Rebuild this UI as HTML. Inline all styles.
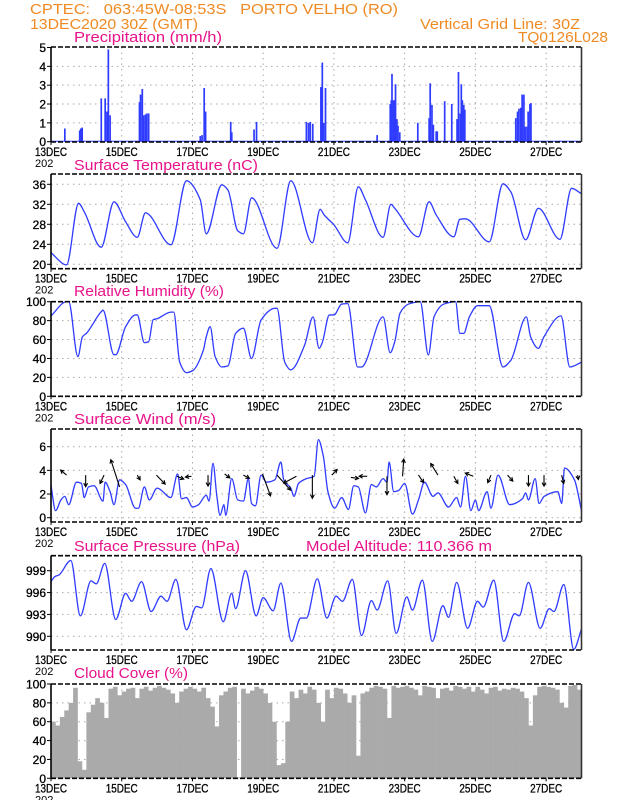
<!DOCTYPE html>
<html><head><meta charset="utf-8">
<style>
html,body{margin:0;padding:0;background:#fff;}
svg{display:block;font-family:"Liberation Sans",sans-serif;}
</style></head>
<body>
<svg id="chart" width="618" height="800" viewBox="0 0 618 800" xmlns="http://www.w3.org/2000/svg">
<g fill="#f08a24" font-size="15">
<text x="30" y="14" textLength="368" lengthAdjust="spacingAndGlyphs" xml:space="preserve">CPTEC:   063:45W-08:53S   PORTO VELHO (RO)</text>
<text x="30" y="29" textLength="168" lengthAdjust="spacingAndGlyphs">13DEC2020 30Z (GMT)</text>
<text x="580" y="29" text-anchor="end" textLength="160" lengthAdjust="spacingAndGlyphs">Vertical Grid Line: 30Z</text>
<text x="608" y="42" text-anchor="end" textLength="90" lengthAdjust="spacingAndGlyphs">TQ0126L028</text>
</g>
<g id="panels"></g>
</svg>
<script>
// ---- data (time in days since 13DEC 00Z) ----
const dayLabels = ["13DEC","15DEC","17DEC","19DEC","21DEC","23DEC","25DEC","27DEC"];
const precipDays = [.39,.81,.84,.88,1.42,1.53,1.58,1.62,1.67,2.5,2.53,2.58,2.62,2.67,2.71,2.76,4.22,4.27,4.33,4.37,5.08,5.11,5.74,5.81,7.22,7.28,7.33,7.4,7.63,7.67,7.71,7.76,9.22,9.59,9.62,9.64,9.68,9.71,9.74,9.78,9.81,9.86,10.37,10.69,10.72,10.77,10.81,10.89,10.92,11.13,11.33,11.48,11.52,11.57,11.6,11.63,11.67,11.7,13.14,13.19,13.23,13.28,13.32,13.37,13.41,13.46,13.49,13.54,13.57,14.39];
const precipVals = [0.7,0.6,0.7,0.75,2.3,2.3,1.6,4.9,1.4,2.1,2.5,2.8,1.4,1.45,1.5,1.5,0.3,0.35,2.85,1.6,1.05,0.5,0.65,1.05,1.05,1.0,1.05,0.95,2.9,4.2,1.0,2.85,0.35,2.0,2.2,3.6,2.2,2.2,3.05,1.2,0.85,0.5,1.0,1.25,3.1,1.95,0.9,0.55,0.55,2.15,2.0,1.2,3.7,1.5,3.05,2.2,1.95,1.7,1.25,1.6,1.75,1.8,2.5,2.5,0.8,0.8,1.6,2.0,2.05,0.05];
const tempDays = [0,.44,.78,.94,1.42,1.78,2.11,2.44,2.67,3.39,3.83,4.22,4.39,4.83,5.0,5.28,5.44,5.67,6.39,6.78,7.39,7.61,7.72,8.0,8.39,8.69,8.89,9.39,9.61,9.72,10.39,10.69,10.89,11.39,11.56,11.72,12.39,12.78,13.0,13.42,13.78,14.39,14.72,15.0];
const tempVals = [22.3,19.9,32.2,30.5,23.4,32.5,28.5,25.4,30.3,23.9,36.7,32.9,26.1,35.9,34.9,26.7,26.1,33.3,23.2,36.7,24.3,31.0,29.9,27.9,24.3,35.5,32.9,25.4,32.0,31.2,25.5,32.5,29.9,25.5,29.0,29.1,24.5,36.1,34.5,24.9,31.2,25.0,35.2,34.1];
const rhDays = [0,.44,.5,.76,.89,1.0,1.42,1.47,1.78,1.83,2.11,2.39,2.44,2.64,2.76,2.89,3.0,3.39,3.47,3.64,3.83,4.0,4.31,4.39,4.5,4.64,4.83,5.0,5.22,5.44,5.67,5.94,6.33,6.39,6.61,6.78,7.17,7.41,7.58,7.67,7.87,8.0,8.22,8.39,8.67,8.78,9.39,9.59,9.72,9.87,10.11,10.44,10.67,10.83,11.11,11.44,11.56,11.67,11.83,12.06,12.39,12.78,13.0,13.44,13.56,13.78,13.94,14.42,14.67,15.0];
const rhVals = [85,100,100,42,63,66.5,89.4,91,44,44,73.6,86,86,56.7,57.7,81,82,89,89,36,25,27,49,63,73.6,42,31,32,66.5,72,40,80.6,93,93,36,28,54,84,50.7,56.7,86,86,97.5,98,31,31,84,46,57.7,88,97.5,100,43.7,84,97.5,100,66.5,66.5,84,95.8,95.8,31,38,84,63,50.7,63,85,31,36];
const windDays = [0,.13,.28,.39,.5,.72,.86,.94,1.06,1.22,1.47,1.53,1.67,1.78,1.94,2.11,2.39,2.47,2.64,2.78,3.0,3.39,3.58,3.69,3.83,4.0,4.17,4.39,4.47,4.58,4.69,4.78,4.89,4.94,5.11,5.28,5.44,5.58,5.67,5.78,5.94,6.09,6.33,6.5,6.58,6.78,6.87,7.0,7.22,7.44,7.56,7.7,7.83,8.02,8.22,8.41,8.56,8.69,8.89,9.06,9.2,9.39,9.5,9.56,9.69,9.83,10.0,10.22,10.39,10.56,10.8,10.94,11.24,11.47,11.58,11.72,11.87,12.0,12.09,12.33,12.44,12.64,12.97,13.33,13.42,13.5,13.69,13.8,13.94,14.33,14.44,14.52,14.8,15.0];
const windVals = [2.7,0.6,1.5,1.8,1.1,3.0,2.9,1.7,2.6,2.7,1.4,3.0,2.2,1.1,3.2,2.8,0.8,0.8,2.6,1.5,2.5,1.7,3.7,1.6,1.7,0.9,1.1,1.9,1.4,4.6,1.8,0.2,1.1,0.2,3.3,1.5,1.4,3.3,1.2,1.0,3.6,3.0,3.2,4.7,3.2,2.5,1.8,2.9,3.3,3.5,6.6,5.2,2.2,0.8,1.7,0.7,2.7,2.6,0.4,2.8,2.6,3.3,3.0,4.7,2.2,2.3,2.9,0.3,1.5,3.0,1.8,2.1,0.9,1.7,0.9,3.5,0.6,1.5,0.6,2.2,0.8,3.6,1.1,1.6,2.1,1.5,3.3,1.2,1.8,2.2,1.2,4.2,3.2,0.6];
const arrowDays = [.44,.98,1.5,1.94,2.44,2.98,3.56,3.97,4.44,4.91,5.44,5.98,6.39,6.94,7.39,7.94,8.48,8.94,9.5,9.94,10.39,10.94,11.39,11.94,12.44,12.91,13.5,13.94,14.44,14.89];
const arrowBase = [3.6,3.6,3.6,2.6,3.6,3.6,3.5,3.5,3.6,3.7,3.6,3.7,3.6,3.5,3.6,3.6,3.4,3.5,3.5,3.5,3.6,3.6,3.5,3.5,3.6,3.6,3.6,3.6,3.6,3.6];
const arrowU = [-1.5,0,-1,-2.2,0.7,2.2,1.7,-1.5,0,1.3,1.5,2,3.4,-3.2,0,1.3,1.9,-2,0,0.3,1.3,-1.8,1,-2,-0.8,1.3,0,0,0.5,0.2];
const arrowV = [1.25,-2.9,-2.1,6.8,-1.2,-2.25,-0.7,-0.2,-2.75,-1,-0.8,-5.5,-3.75,-1.7,-5.8,1.4,-0.25,0,-4.6,4.3,-1.9,2.9,-1.8,0.8,-1.9,-1.5,-2.75,-2.75,-2.1,-1.1];
const presDays = [0,.11,.22,.56,.83,1.13,1.28,1.52,1.83,2.11,2.28,2.56,2.83,3.11,3.28,3.53,3.83,4.11,4.26,4.52,4.87,5.11,5.22,5.5,5.8,6.0,6.28,6.5,6.8,7.06,7.22,7.53,7.8,8.06,8.24,8.52,8.78,9.06,9.22,9.52,9.76,10.06,10.22,10.5,10.78,11.08,11.24,11.47,11.78,12.06,12.22,12.52,12.8,13.11,13.24,13.5,13.83,14.09,14.22,14.5,14.78,15.0];
const presVals = [997.5,998.2,998.4,1000.4,992.8,997.6,997.2,1000.0,992.3,995.9,994.8,997.5,993.4,995.5,994.8,997.8,990.9,994.1,993.9,999.3,992.0,995.9,993.8,999.0,992.8,995.3,993.5,997.3,989.3,992.5,992.5,997.9,992.5,995.5,994.8,997.8,990.1,994.9,993.6,997.6,990.4,995.4,993.6,997.7,989.3,994.2,992.6,997.4,991.1,994.8,994.0,997.7,989.3,993.1,992.8,997.4,991.1,993.8,993.4,997.1,988.2,991.0];
const cloudVals = [60,56,65,72,80,96,18,9, 70,78,85,80,64,95,97,88, 92,95,96,85,95,97,93,96, 98,96,94,90,80,92,95,97, 95,92,96,85,76,55,88,92, 96,97,1,95,90,93,97,95, 90,80,60,14,16,60,92,85, 94,90,97,94,80,60,94,85, 96,95,90,80,88,24,90,92, 96,98,97,95,64,98,96,97, 98,96,94,88,98,97,96,85, 95,96,93,98,97,95,97,92, 97,94,90,96,97,93,95,94, 96,95,92,85,56,88,97,98, 97,96,94,80,75,98,99,94];
const precipTicks = [0,1,2,3,4,5];
const tempTicks = [20,24,28,32,36];
const rhTicks = [0,20,40,60,80,100];
const windTicks = [0,2,4,6];
const presTicks = [990,993,996,999];
const cloudTicks = [0,20,40,60,80,100];

const NS = "http://www.w3.org/2000/svg";
const L = 51, R = 581.5, DAYS = 15;
const X = d => L + d * (R - L) / DAYS;
const root = document.getElementById('panels');
function el(tag, attrs, parent) {
  const e = document.createElementNS(NS, tag);
  for (const k in attrs) e.setAttribute(k, attrs[k]);
  (parent || root).appendChild(e);
  return e;
}
function yScale(top, bottom, lo, hi, vTop, vBot) {
  return v => vTop + (v - hi) / (lo - hi) * (vBot - vTop);
}
function monotonePath(xs, ys) {
  const n = xs.length; const m = [];
  const dx = [], s = [];
  for (let i = 0; i < n - 1; i++) { dx.push(xs[i+1]-xs[i]); s.push((ys[i+1]-ys[i])/dx[i]); }
  m[0] = s[0]; m[n-1] = s[n-2];
  for (let i = 1; i < n - 1; i++) {
    if (s[i-1] * s[i] <= 0) m[i] = 0;
    else { const h0 = dx[i-1], h1 = dx[i]; m[i] = 3*(h0+h1)/((2*h1+h0)/s[i-1] + (h1+2*h0)/s[i]); }
  }
  let d = `M${xs[0].toFixed(2)},${ys[0].toFixed(2)}`;
  for (let i = 0; i < n - 1; i++) {
    const h = dx[i] / 3;
    d += ` C${(xs[i]+h).toFixed(2)},${(ys[i]+m[i]*h).toFixed(2)} ${(xs[i+1]-h).toFixed(2)},${(ys[i+1]-m[i+1]*h).toFixed(2)} ${xs[i+1].toFixed(2)},${ys[i+1].toFixed(2)}`;
  }
  return d;
}
function panel(name, title, titleY, titleW, top, bottom, ticks, vTop, vBot, lo, hi) {
  const g = el('g', {});
  
  
  const t = el('text', {x: 74, y: titleY, fill: '#e8128a', 'font-size': 15, textLength: titleW, lengthAdjust: 'spacingAndGlyphs'}, g);
  t.textContent = title;
  
  
  const y = yScale(top, bottom, lo, hi, vTop, vBot);
  for (let d = 2; d < 15; d += 2) {
    const gl = el('line', {x1: X(d), x2: X(d), y1: top, y2: bottom, stroke: '#aaa', 'stroke-width': 1, 'stroke-dasharray': '1.5,4'}, g);
    
    
  }
  ticks.forEach(v => {
    const yy = y(v);
    if (yy > top + 1 && yy < bottom - 1) {
      const gl = el('line', {x1: L, x2: R, y1: yy, y2: yy, stroke: '#aaa', 'stroke-width': 1, 'stroke-dasharray': '1.5,4'}, g);
      
      
    }
    el('line', {x1: L - 4, x2: L, y1: yy, y2: yy, stroke: '#000', 'stroke-width': 1}, g);
    const tl = el('text', {x: L - 5, y: yy + 4.5, 'text-anchor': 'end', 'font-size': 12, stroke: '#000', 'stroke-width': 0.3}, g);
    tl.textContent = v;
    
    
  });
  dayLabels.forEach((lab, i) => {
    const d = i * 2;
    el('line', {x1: X(d), x2: X(d), y1: bottom, y2: bottom + 3, stroke: '#000'}, g);
    const xl = el('text', {x: X(d), y: bottom + 14, 'text-anchor': 'middle', 'font-size': 12, stroke: '#000', 'stroke-width': 0.3, textLength: 32, lengthAdjust: 'spacingAndGlyphs'}, g);
    xl.textContent = lab;
    
    
  });
  const yr = el('text', {x: 35, y: bottom + 25, 'font-size': 11, fill: '#000'}, g);
  yr.textContent = '202';
  
  
  return {g, y, top, bottom};
}
function frame(p) {
  const f = el('g', {}, p.g);
  
  
  el('line', {x1: L, x2: R, y1: p.top, y2: p.top, stroke: '#000', 'stroke-width': 1.6, 'stroke-dasharray': '5,2'}, f);
  el('line', {x1: L, x2: R, y1: p.bottom, y2: p.bottom, stroke: '#000', 'stroke-width': 1.6, 'stroke-dasharray': '5,2'}, f);
  el('line', {x1: L, x2: L, y1: p.top, y2: p.bottom, stroke: '#000', 'stroke-width': 1.6}, f);
  el('line', {x1: R, x2: R, y1: p.top, y2: p.bottom, stroke: '#333', 'stroke-width': 1.6}, f);
}
function line(p, days, vals, name) {
  const path = el('path', {d: monotonePath(days.map(X), vals.map(p.y)), fill: 'none', stroke: '#2f3cff', 'stroke-width': 1.3}, p.g);
  
  
}

// Precipitation
const p1 = panel('precipitation', 'Precipitation (mm/h)', 42, 148, 47, 142, precipTicks, 47.5, 141.7, 0, 5);
const pb = el('line', {x1: L, x2: R, y1: 141.2, y2: 141.2, stroke: '#2f3cff', 'stroke-width': 1}, p1.g);


precipDays.forEach((d, i) => {
  const yy = p1.y(precipVals[i]);
  const b = el('rect', {x: X(d) - 0.8, y: yy, width: 1.7, height: p1.y(0) - yy, fill: '#2f3cff'}, p1.g);
  
  
});
frame(p1);

// Temperature
const p2 = panel('temperature', 'Surface Temperature (nC)', 170, 184, 174, 268.7, tempTicks, 184.3, 264.3, 20, 36);
line(p2, tempDays, tempVals, 'temperature-line');
frame(p2);

// Humidity
const p3 = panel('humidity', 'Relative Humidity (%)', 296, 150, 301.7, 396.3, rhTicks, 301.7, 396.3, 0, 100);
line(p3, rhDays, rhVals, 'humidity-line');
frame(p3);

// Wind
const p4 = panel('wind', 'Surface Wind (m/s)', 424, 142, 429, 522, windTicks, 446.7, 517.7, 0, 6);
line(p4, windDays, windVals, 'wind-speed-line');
arrowDays.forEach((d, i) => {
  const x0 = X(d), y0 = p4.y(arrowBase[i]);
  const x1 = x0 + arrowU[i] * 4, y1 = y0 - arrowV[i] * 4;
  const ang = Math.atan2(y1 - y0, x1 - x0);
  const a = el('g', {}, p4.g);
  
  
  el('line', {x1: x0, y1: y0, x2: x1, y2: y1, stroke: '#000', 'stroke-width': 1.1}, a);
  const hl = 4;
  el('path', {d: `M${x1 - hl*Math.cos(ang - 0.5)},${y1 - hl*Math.sin(ang - 0.5)} L${x1},${y1} L${x1 - hl*Math.cos(ang + 0.5)},${y1 - hl*Math.sin(ang + 0.5)}`, fill: 'none', stroke: '#000', 'stroke-width': 1.1}, a);
});
frame(p4);

// Pressure
const p5 = panel('pressure', 'Surface Pressure (hPa)', 551, 166, 555.7, 650, presTicks, 570.7, 636.3, 990, 999);
const alt = el('text', {x: 306, y: 551, fill: '#e8128a', 'font-size': 15, textLength: 186, lengthAdjust: 'spacingAndGlyphs'}, p5.g);
alt.textContent = 'Model Altitude: 110.366 m';


line(p5, presDays, presVals, 'pressure-line');
frame(p5);

// Cloud cover
const p6 = panel('cloud', 'Cloud Cover (%)', 678, 114, 684, 778.3, cloudTicks, 684, 778.3, 0, 100);
const step = 0.125;
cloudVals.forEach((v, i) => {
  const x0 = X(i * step), x1 = X((i + 1) * step);
  const yy = p6.y(v);
  const b = el('rect', {x: x0, y: yy, width: x1 - x0 + 0.3, height: p6.y(0) - yy, fill: '#aaaaaa'}, p6.g);
  
  
});
frame(p6);
</script>
</body></html>
